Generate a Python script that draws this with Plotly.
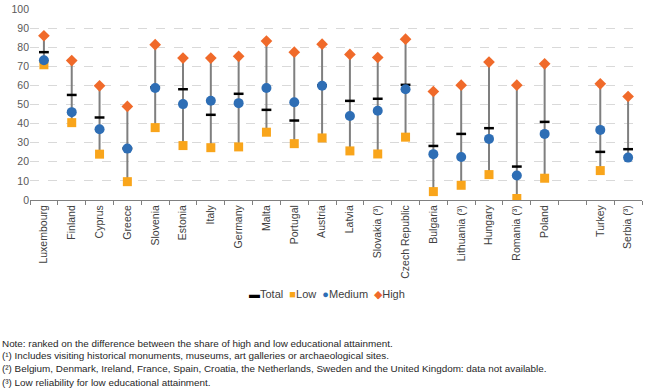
import plotly.graph_objects as go

countries = ["Luxembourg", "Finland", "Cyprus", "Greece", "Slovenia", "Estonia", "Italy",
             "Germany", "Malta", "Portugal", "Austria", "Latvia", "Slovakia (³)",
             "Czech Republic", "Bulgaria", "Lithuania (³)", "Hungary", "Romania (³)",
             "Poland", " ", "Turkey", "Serbia (³)"]

total = [77.4, 55.0, 43.2, 27.0, 59.0, 58.0, 44.6, 55.6, 47.2, 41.6, 60.0, 51.9, 53.0,
         60.3, 28.3, 34.6, 37.6, 17.5, 40.9, None, 25.2, 26.6]
low = [70.8, 40.5, 24.0, 9.6, 37.9, 28.5, 27.4, 27.8, 35.5, 29.5, 32.5, 25.7, 24.1,
       32.9, 4.4, 7.7, 13.3, 0.8, 11.4, None, 15.4, None]
medium = [73.2, 46.0, 37.0, 26.9, 58.6, 50.2, 52.0, 50.7, 58.6, 51.2, 59.8, 44.0, 46.7,
          58.0, 24.0, 22.5, 32.0, 12.8, 34.6, None, 36.7, 22.2]
high = [86.0, 73.0, 59.8, 49.0, 81.3, 74.3, 74.3, 75.2, 83.2, 77.4, 81.6, 76.2, 74.6,
        84.2, 56.8, 60.1, 72.2, 60.1, 71.3, None, 60.8, 54.2]

y_ticks = list(range(0, 101, 10))

series_names = ["Total", "Low", "Medium", "High"]

footnotes = [
    "Note: ranked on the difference between the share of high and low educational attainment.",
    "(¹) Includes visiting historical monuments, museums, art galleries or archaeological sites.",
    "(²) Belgium, Denmark, Ireland, France, Spain, Croatia, the Netherlands, Sweden and the United Kingdom: data not available.",
    "(³) Low reliability for low educational attainment.",
]

C_TOTAL, C_LOW, C_MED, C_HIGH = "#000000", "#F9A51B", "#2E6EB5", "#F06A2A"

# high-low connector lines built from the series
cx, cy = [], []
for i, c in enumerate(countries):
    vals = [v for v in (total[i], low[i], medium[i], high[i]) if v is not None]
    if len(vals) >= 2:
        cx += [c, c, None]
        cy += [min(vals), max(vals), None]

FONT = "Liberation Sans, Arial, sans-serif"

fig = go.Figure()
fig.add_trace(go.Scatter(x=cx, y=cy, mode="lines", line=dict(color="#7f7f7f", width=2),
                         showlegend=False, hoverinfo="skip"))
fig.add_trace(go.Scatter(x=countries, y=total, mode="markers", name=series_names[0],
                         marker=dict(symbol="line-ew", size=7,
                                     line=dict(color=C_TOTAL, width=2.5))))
fig.add_trace(go.Scatter(x=countries, y=low, mode="markers", name=series_names[1],
                         marker=dict(symbol="square", size=9, color=C_LOW)))
fig.add_trace(go.Scatter(x=countries, y=medium, mode="markers", name=series_names[2],
                         marker=dict(symbol="circle", size=10, color=C_MED)))
fig.add_trace(go.Scatter(x=countries, y=high, mode="markers", name=series_names[3],
                         marker=dict(symbol="diamond", size=9, color=C_HIGH)))

ann = []
ypos = [-0.749, -0.812, -0.880, -0.953]
for t, yy in zip(footnotes, ypos):
    ann.append(dict(text=t, xref="paper", yref="paper", x=-0.049, y=yy,
                    xanchor="left", yanchor="middle", showarrow=False,
                    font=dict(family=FONT, size=9.9, color="#262626")))

legend_text = (f"<span style='color:{C_TOTAL}'>▬</span>{series_names[0]}  "
               f"<span style='color:{C_LOW}'>■</span>{series_names[1]}  "
               f"<span style='color:{C_MED}'>●</span>{series_names[2]}  "
               f"<span style='color:{C_HIGH}'>◆</span>{series_names[3]}")
ann.append(dict(text=legend_text, xref="paper", yref="paper", x=0.485, y=-0.492,
                xanchor="center", yanchor="middle", showarrow=False,
                font=dict(family=FONT, size=11, color="#404040")))

fig.update_layout(
    width=661, height=389,
    margin=dict(l=30, r=19, t=9, b=189, autoexpand=False),
    paper_bgcolor="white", plot_bgcolor="white",
    font=dict(family=FONT, size=10.5, color="#595959"),
    showlegend=False,
    annotations=ann,
    xaxis=dict(type="category", categoryorder="array", categoryarray=countries,
               range=[-0.5, len(countries) - 0.5], automargin=False,
               tickangle=-90, tickson="boundaries", ticks="outside", ticklen=4,
               tickcolor="#808080", showline=True, linecolor="#808080", linewidth=1,
               showgrid=False, tickfont=dict(family=FONT, size=10.5, color="#404040")),
    yaxis=dict(range=[0, 100], tickvals=y_ticks, showline=False, ticks="", automargin=False,
               showgrid=True, gridcolor="#d9d9d9", griddash="dash", gridwidth=1,
               zeroline=False, tickfont=dict(family=FONT, size=10.5, color="#595959")),
)

fig.write_html("out.html", config={"displayModeBar": False},
               post_script="document.body.style.margin='0';document.body.style.overflow='hidden';")
